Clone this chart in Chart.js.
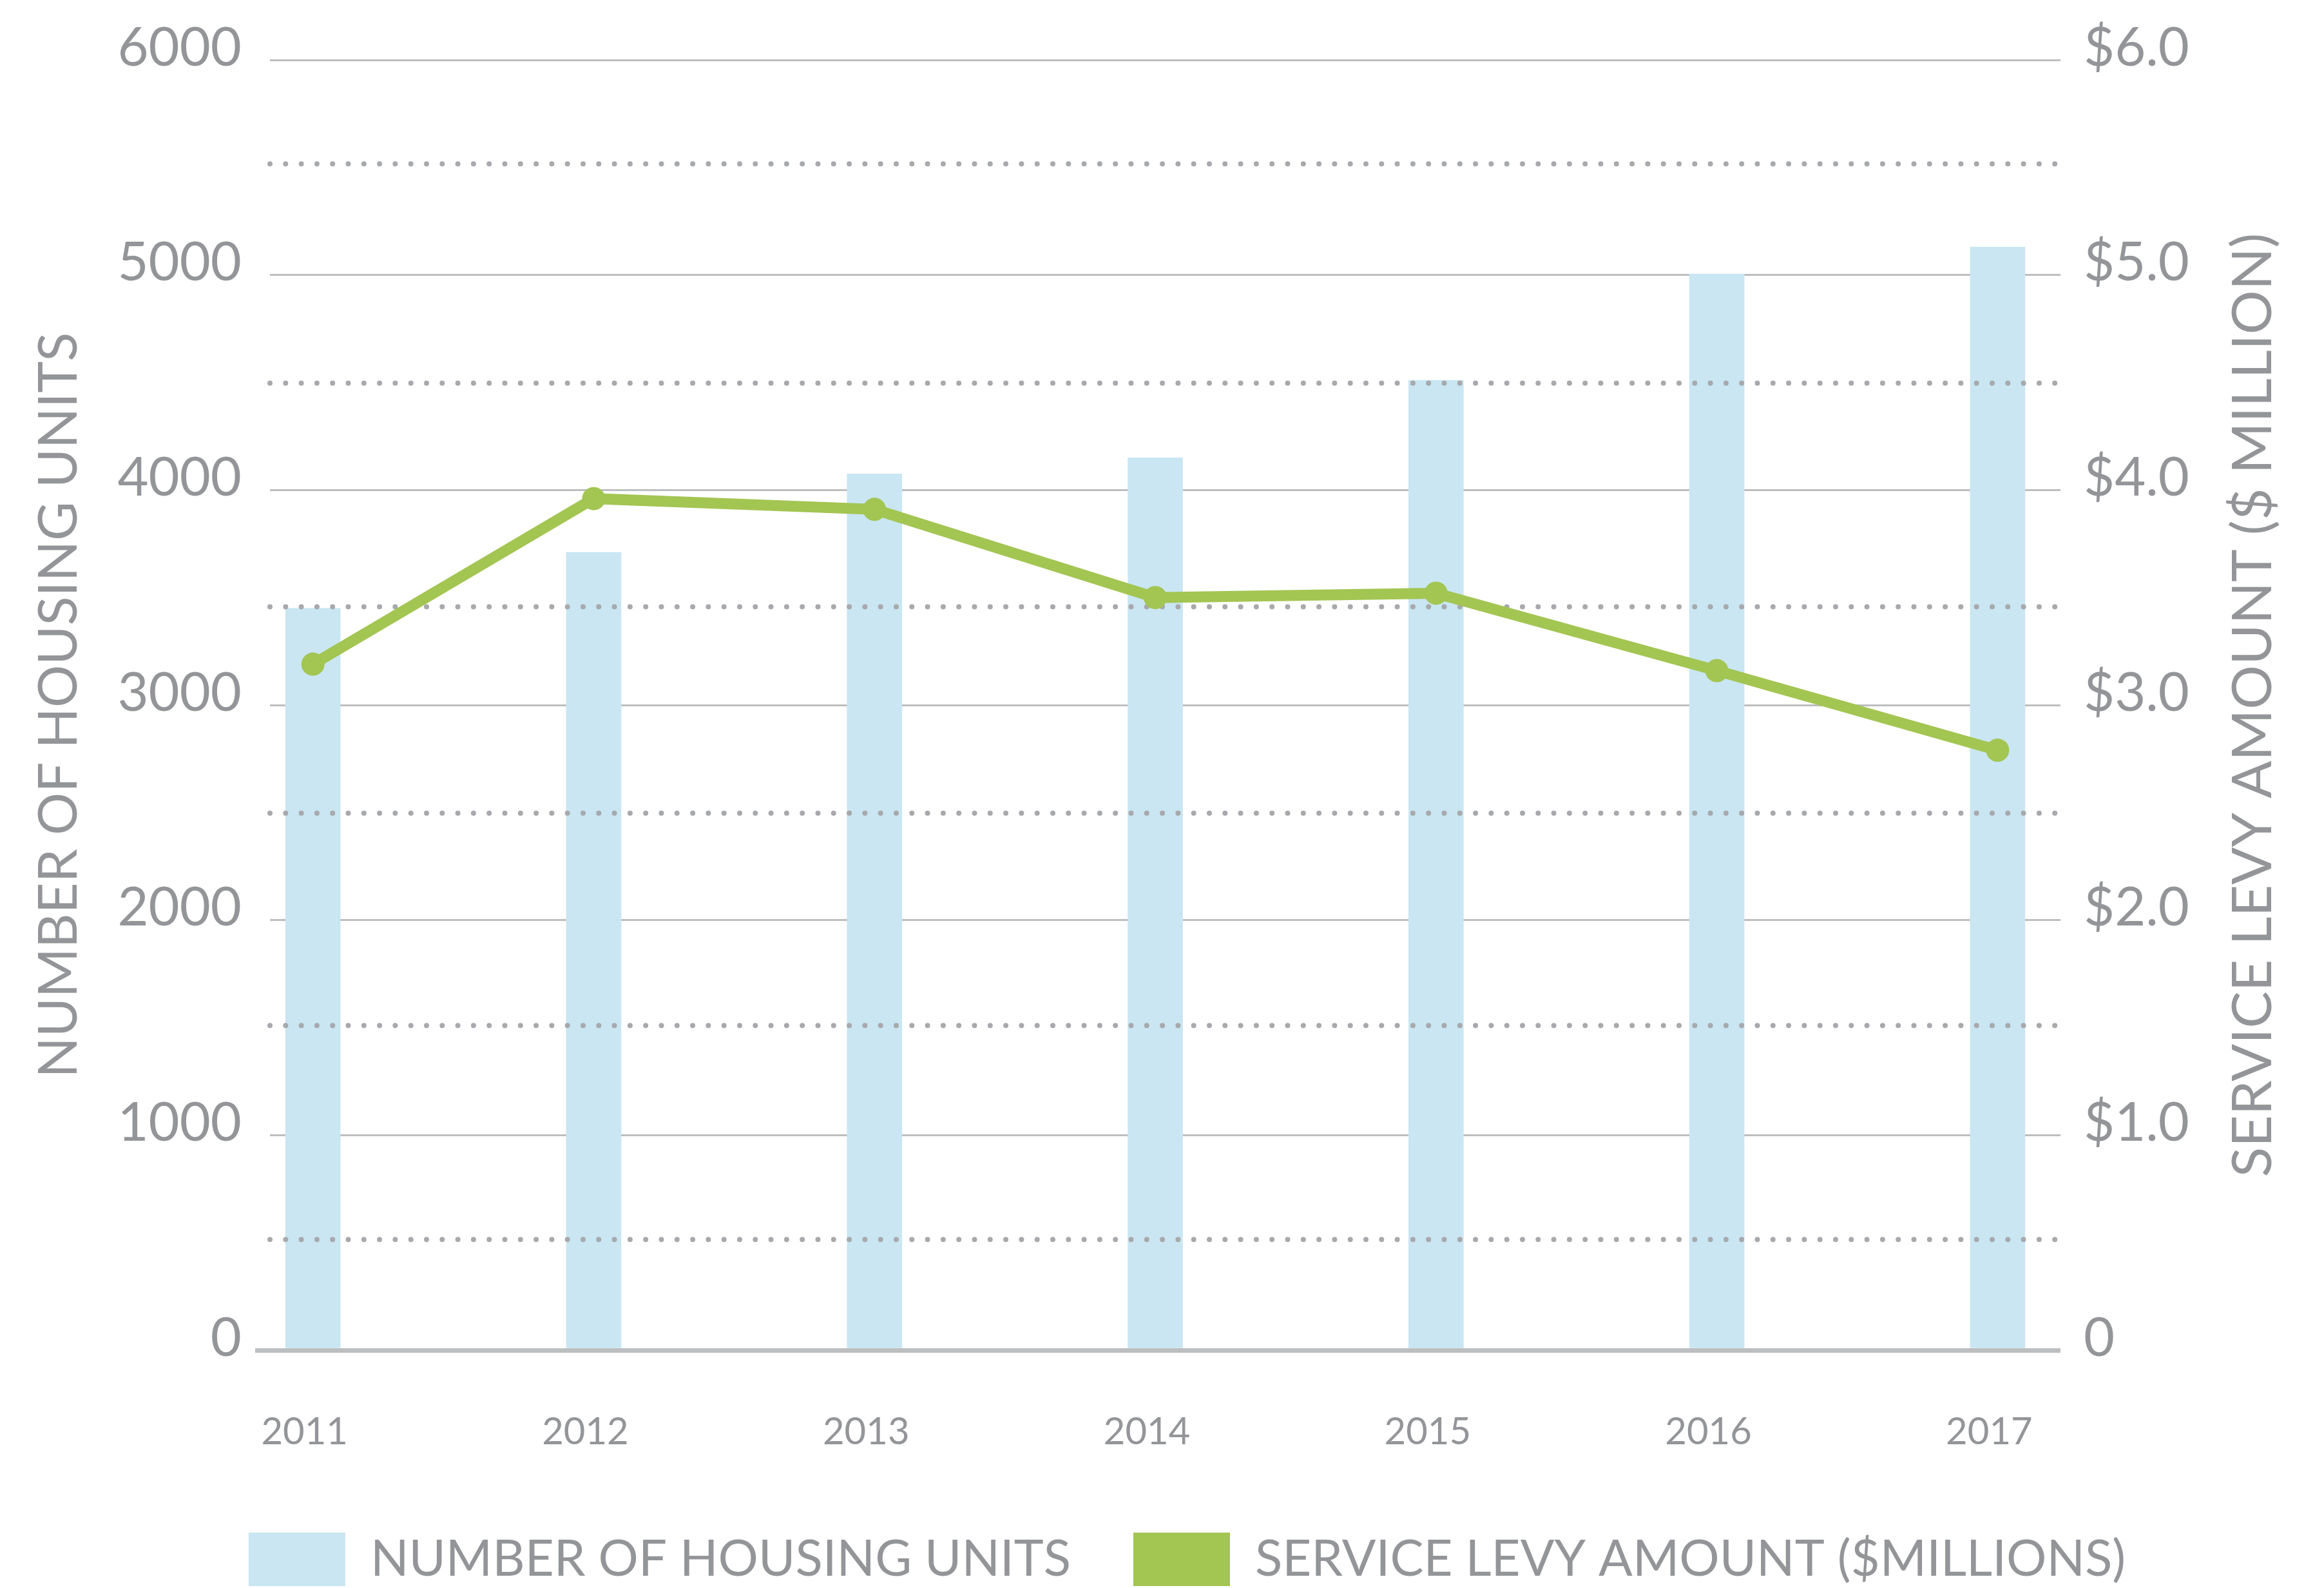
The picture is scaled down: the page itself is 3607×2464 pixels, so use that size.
<!DOCTYPE html>
<html>
<head>
<meta charset="utf-8">
<script src="https://cdn.jsdelivr.net/npm/chart.js@4/dist/chart.umd.min.js"></script>
<style>
  html, body { margin: 0; padding: 0; background: #ffffff; }
  #wrap { width: 3607px; height: 2464px; position: relative; }
  canvas { display: block; }
</style>
</head>
<body>
<div id="wrap"><canvas id="c" width="3607" height="2464"></canvas></div>
<script>
// ---- data ----
const years = ['2011', '2012', '2013', '2014', '2015', '2016', '2017'];
const housingUnits = [3450, 3710, 4075, 4150, 4510, 5005, 5130];
const serviceLevy = [3.19, 3.96, 3.91, 3.50, 3.52, 3.16, 2.79];
const leftTickLabels = ['0', '1000', '2000', '3000', '4000', '5000', '6000'];
const rightTickLabels = ['0', '$1.0', '$2.0', '$3.0', '$4.0', '$5.0', '$6.0'];
const dottedGridValues = [515, 1510, 2497, 3457, 4497, 5517];
const legendLabels = ['NUMBER OF HOUSING UNITS', 'SERVICE LEVY AMOUNT ($MILLIONS)'];
const leftAxisTitle = 'NUMBER OF HOUSING UNITS';
const rightAxisTitle = 'SERVICE LEVY AMOUNT ($ MILLION)';

const TEXT = '#939598';
const GRID = '#bcbec0';
const DOTS = '#a7a9ac';
const BLUE = '#c9e6f2';
const GREEN = '#a3c552';
const FONT = 'Lato';

const dottedPlugin = {
  id: 'dottedGrid',
  afterDatasetDraw(chart, args) {
    if (args.index !== 0) return;
    const ctx = chart.ctx, a = chart.chartArea, y = chart.scales.y;
    ctx.save();
    ctx.strokeStyle = DOTS;
    ctx.lineWidth = 8;
    ctx.lineCap = 'round';
    ctx.setLineDash([0, 24.3]);
    dottedGridValues.forEach(v => {
      const py = y.getPixelForValue(v);
      ctx.beginPath();
      ctx.moveTo(a.left, py);
      ctx.lineTo(a.right + 5, py);
      ctx.stroke();
    });
    ctx.restore();
  }
};

const rightTitlePlugin = {
  id: 'rightTitle',
  afterDraw(chart) {
    const s = chart.scales.y1;
    const t = s.options.title;
    const lh = t.font.size * 1.2;
    const x = s.right - (t.padding.top + lh / 2);
    const y = (s.top + s.bottom) / 2;
    const ctx = chart.ctx;
    ctx.save();
    ctx.translate(x, y);
    ctx.rotate(-Math.PI / 2);
    ctx.fillStyle = TEXT;
    ctx.font = t.font.size + 'px ' + FONT;
    ctx.textAlign = 'center';
    ctx.textBaseline = 'middle';
    ctx.fillText(rightAxisTitle, 0, 0);
    ctx.restore();
  }
};

const legendShiftPlugin = {
  id: 'legendShift',
  afterLayout(chart, args, opts) {
    const lg = chart.legend;
    if (!lg) return;
    lg.left += opts.dx;
    lg.right += opts.dx;
    lg.top += opts.dy;
    lg.bottom += opts.dy;
  }
};

new Chart(document.getElementById('c'), {
  data: {
    datasets: [
      {
        type: 'bar',
        label: legendLabels[0],
        data: housingUnits.map((v, i) => ({ x: i, y: v })),
        backgroundColor: BLUE,
        borderWidth: 0,
        barThickness: 85,
        xAxisID: 'x',
        yAxisID: 'y',
        order: 1
      },
      {
        type: 'line',
        label: legendLabels[1],
        data: serviceLevy.map((v, i) => ({ x: i, y: v })),
        borderColor: GREEN,
        backgroundColor: GREEN,
        borderWidth: 17,
        pointRadius: 18,
        pointBackgroundColor: GREEN,
        pointBorderWidth: 0,
        tension: 0,
        xAxisID: 'x',
        yAxisID: 'y1',
        order: 0
      }
    ]
  },
  options: {
    responsive: false,
    animation: false,
    devicePixelRatio: 1,
    layout: { padding: { top: 93, left: 0, right: 0, bottom: 0 } },
    plugins: {
      tooltip: { enabled: false },
      legendShift: { dx: 39, dy: 7 },
      legend: {
        position: 'bottom',
        labels: {
          color: TEXT,
          font: { family: FONT, size: 78 },
          boxWidth: 150,
          boxHeight: 83,
          padding: 97,
          generateLabels(chart) {
            return chart.data.datasets.map((d, i) => ({
              text: d.label,
              fillStyle: d.type === 'bar' ? BLUE : GREEN,
              strokeStyle: 'rgba(0,0,0,0)',
              lineWidth: 0,
              fontColor: TEXT,
              hidden: false,
              datasetIndex: i
            }));
          }
        }
      }
    },
    scales: {
      x: {
        type: 'linear',
        offset: false,
        min: -0.153,
        max: 6.224,
        afterBuildTicks(scale) { scale.ticks = years.map((_, i) => ({ value: i })); },
        afterFit(scale) { scale.height = 179; },
        grid: { display: false },
        border: { display: false },
        ticks: {
          color: TEXT,
          font: { family: FONT, size: 58 },
          padding: 84,
          labelOffset: -13,
          maxRotation: 0,
          autoSkip: false,
          callback: (v) => years[v]
        }
      },
      y: {
        position: 'left',
        min: 0,
        max: 6000,
        afterFit(scale) { scale.width = 419; },
        ticks: {
          stepSize: 1000,
          color: TEXT,
          font: { family: FONT, size: 83 },
          padding: 21,
          labelOffset: -18,
          callback: (v) => leftTickLabels[Math.round(v / 1000)]
        },
        grid: {
          color: GRID,
          lineWidth: (c) => c.tick && c.tick.value === 0 ? 7 : 3,
          drawTicks: true,
          tickLength: 23,
          tickWidth: 7,
          tickColor: (c) => c.tick && c.tick.value === 0 ? GRID : 'rgba(0,0,0,0)'
        },
        border: { display: false },
        title: {
          display: true,
          text: leftAxisTitle,
          color: TEXT,
          font: { family: FONT, size: 83 },
          padding: { top: 42, bottom: 0 }
        }
      },
      y1: {
        position: 'right',
        min: 0,
        max: 6,
        afterFit(scale) { scale.width = 409; },
        ticks: {
          stepSize: 1,
          color: TEXT,
          font: { family: FONT, size: 83 },
          padding: 28,
          labelOffset: -18,
          callback: (v) => rightTickLabels[Math.round(v)]
        },
        grid: { display: false },
        border: { display: false },
        title: {
          display: true,
          text: rightAxisTitle,
          color: 'rgba(0,0,0,0)',
          font: { family: FONT, size: 86 },
          padding: { top: 58, bottom: 0 }
        }
      }
    }
  },
  plugins: [dottedPlugin, rightTitlePlugin, legendShiftPlugin]
});
</script>
</body>
</html>
